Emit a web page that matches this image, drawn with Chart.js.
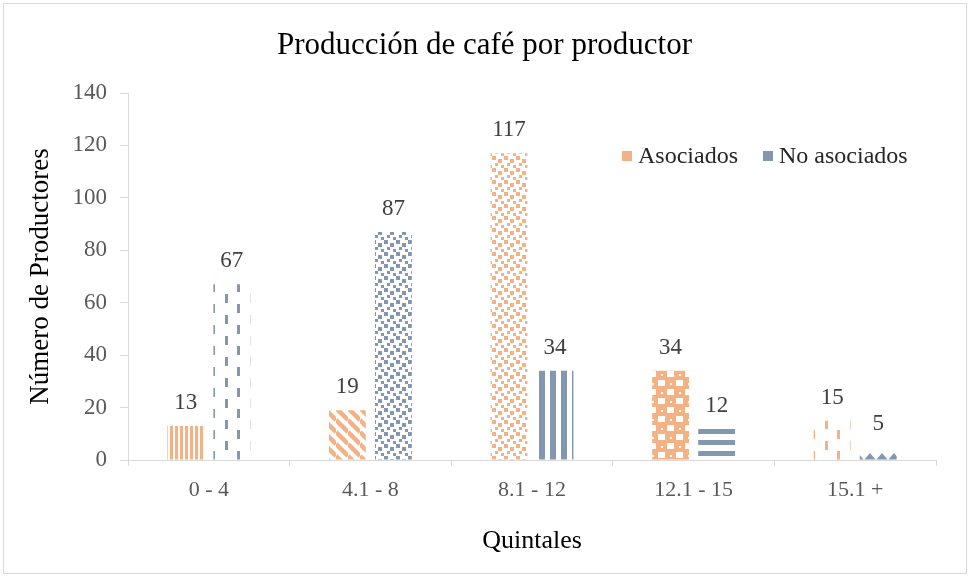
<!DOCTYPE html>
<html lang="es">
<head>
  <meta charset="UTF-8" />
  <title>Producción de café por productor</title>
  <script src="https://cdn.jsdelivr.net/npm/chart.js"></script>
  <style>
    html, body { margin: 0; padding: 0; background: #fff; }
    .wrap { position: relative; width: 969px; height: 577px; }
  </style>
</head>
<body>
  <div class="wrap">
    <canvas id="coffeeChart" width="969" height="577"></canvas>
  </div>

  <script>
    // Data
    const categories = ['0 - 4', '4.1 - 8', '8.1 - 12', '12.1 - 15', '15.1 +'];
    const asociados = [13, 19, 117, 34, 15];
    const noAsociados = [67, 87, 34, 12, 5];
    const yMin = 0, yMax = 140, yStep = 20;
    const chartTitle = 'Producción de café por productor';

    // Fill pattern per bar (style, not data)
    const asociadosFill = ['vertNarrow', 'diagWide', 'confetti', 'sphere', 'dashedVert'];
    const noAsociadosFill = ['dashedVert', 'confetti', 'vertWide', 'horizWide', 'wave'];

    const ORANGE = '#F4B183';
    const BLUE = '#8497B0';
    const SERIF = '"Liberation Serif", "Times New Roman", serif';

    function makePattern(w, h, draw) {
      const c = document.createElement('canvas');
      c.width = w; c.height = h;
      const g = c.getContext('2d');
      draw(g, w, h);
      return g.createPattern(c, 'repeat');
    }

    const painters = {
      vertNarrow: (g, col) => { g.fillStyle = col; g.fillRect(0, 0, 3, 1); },
      vertWide: (g, col) => { g.fillStyle = col; g.fillRect(0, 0, 6, 1); },
      horizWide: (g, col) => { g.fillStyle = col; g.fillRect(0, 0, 1, 5); },
      diagWide: (g, col, s) => {
        g.strokeStyle = col; g.lineWidth = 4.5;
        [-s, 0, s].forEach(c => { g.beginPath(); g.moveTo(0, c); g.lineTo(s, s + c); g.stroke(); });
      },
      dashedVert: (g, col) => {
        g.fillStyle = col;
        g.fillRect(0, 0, 3, 9);
        g.fillRect(12, 10, 3, 9);
      },
      confetti: (g, col) => {
        g.fillStyle = col;
        g.fillRect(0, 0, 4, 4);
        g.fillRect(6, 3, 4, 4);
        g.fillRect(3, 7, 3, 3);
        g.fillRect(9, 9, 3, 3);
      },
      sphere: (g, col) => {
        g.fillStyle = col;
        g.fillRect(0, 0, 18, 18);
        g.fillStyle = '#fff';
        g.fillRect(10, 2, 7, 6);
        g.fillRect(1, 11, 7, 6);
        g.fillRect(4, 5, 2, 2);
        g.fillRect(13, 14, 2, 2);
      },
      wave: (g, col) => {
        g.fillStyle = col;
        g.beginPath(); g.moveTo(0, 20); g.lineTo(6, 13); g.lineTo(12, 20); g.closePath(); g.fill();
      }
    };
    const tileSize = {
      vertNarrow: [5, 1], vertWide: [11, 1], horizWide: [1, 11], diagWide: [12, 12],
      dashedVert: [25, 21], confetti: [12, 12], sphere: [18, 18], wave: [12, 20]
    };

    function patternFor(name, col) {
      const [w, h] = tileSize[name];
      return makePattern(w, h, g => painters[name](g, col, w));
    }

    // Value labels above the bars
    const valueLabels = {
      id: 'valueLabels',
      afterDatasetsDraw(chart) {
        const ctx = chart.ctx;
        ctx.save();
        ctx.font = '23px ' + SERIF;
        ctx.fillStyle = '#404040';
        ctx.textAlign = 'center';
        ctx.textBaseline = 'alphabetic';
        chart.data.datasets.forEach((ds, i) => {
          chart.getDatasetMeta(i).data.forEach((bar, j) => {
            ctx.fillText(ds.data[j], bar.x, bar.y - 17);
          });
        });
        ctx.restore();
      }
    };

    // Frame, centred title and the legend inside the plot (top right)
    const frameAndLegend = {
      id: 'frameAndLegend',
      beforeDraw(chart) {
        const ctx = chart.ctx;
        ctx.save();
        ctx.fillStyle = '#fff';
        ctx.fillRect(0, 0, chart.width, chart.height);
        ctx.strokeStyle = '#d9d9d9';
        ctx.lineWidth = 1;
        ctx.strokeRect(3.5, 3.5, 963, 570);
        ctx.fillStyle = '#000';
        ctx.font = '31px ' + SERIF;
        ctx.textAlign = 'center';
        ctx.textBaseline = 'middle';
        ctx.fillText(chartTitle, chart.width / 2, 46);
        ctx.restore();
      },
      afterDraw(chart) {
        const ctx = chart.ctx;
        ctx.save();
        ctx.font = '24px ' + SERIF;
        ctx.textBaseline = 'alphabetic';
        let x = 622;
        chart.data.datasets.forEach(ds => {
          ctx.fillStyle = ds.legendColor;
          ctx.fillRect(x, 151, 10, 10);
          ctx.fillStyle = '#262626';
          ctx.fillText(ds.label, x + 16, 163);
          x += 16 + ctx.measureText(ds.label).width + 25;
        });
        ctx.restore();
      }
    };

    new Chart(document.getElementById('coffeeChart'), {
      type: 'bar',
      data: {
        labels: categories,
        datasets: [
          {
            label: 'Asociados',
            data: asociados,
            legendColor: ORANGE,
            backgroundColor: asociadosFill.map(p => patternFor(p, ORANGE)),
            categoryPercentage: 0.57,
            barPercentage: 0.8
          },
          {
            label: 'No asociados',
            data: noAsociados,
            legendColor: BLUE,
            backgroundColor: noAsociadosFill.map(p => patternFor(p, BLUE)),
            categoryPercentage: 0.57,
            barPercentage: 0.8
          }
        ]
      },
      options: {
        responsive: false,
        animation: false,
        layout: { padding: { left: 0, right: 33, top: 93, bottom: 0 } },
        plugins: {
          legend: { display: false },
          tooltip: { enabled: false },
          title: { display: false }
        },
        scales: {
          x: {
            afterFit(scale) { scale.height = 117; },
            grid: { drawOnChartArea: false, tickLength: 6, color: '#d9d9d9', offset: true },
            border: { color: '#d9d9d9' },
            ticks: { color: '#595959', font: { family: SERIF, size: 22 }, padding: 11 },
            title: {
              display: true,
              text: 'Quintales',
              color: '#000',
              font: { family: SERIF, size: 26 },
              padding: { top: 0, bottom: 20 }
            }
          },
          y: {
            min: yMin,
            max: yMax,
            afterFit(scale) { scale.width = 128; },
            grid: { drawOnChartArea: false, tickLength: 8, color: '#d9d9d9' },
            border: { color: '#d9d9d9' },
            ticks: { stepSize: yStep, color: '#595959', font: { family: SERIF, size: 23 }, padding: 13 },
            title: {
              display: true,
              text: 'Número de Productores',
              color: '#000',
              font: { family: SERIF, size: 27 },
              padding: { top: 25, bottom: 0 }
            }
          }
        }
      },
      plugins: [valueLabels, frameAndLegend]
    });
  </script>
</body>
</html>
